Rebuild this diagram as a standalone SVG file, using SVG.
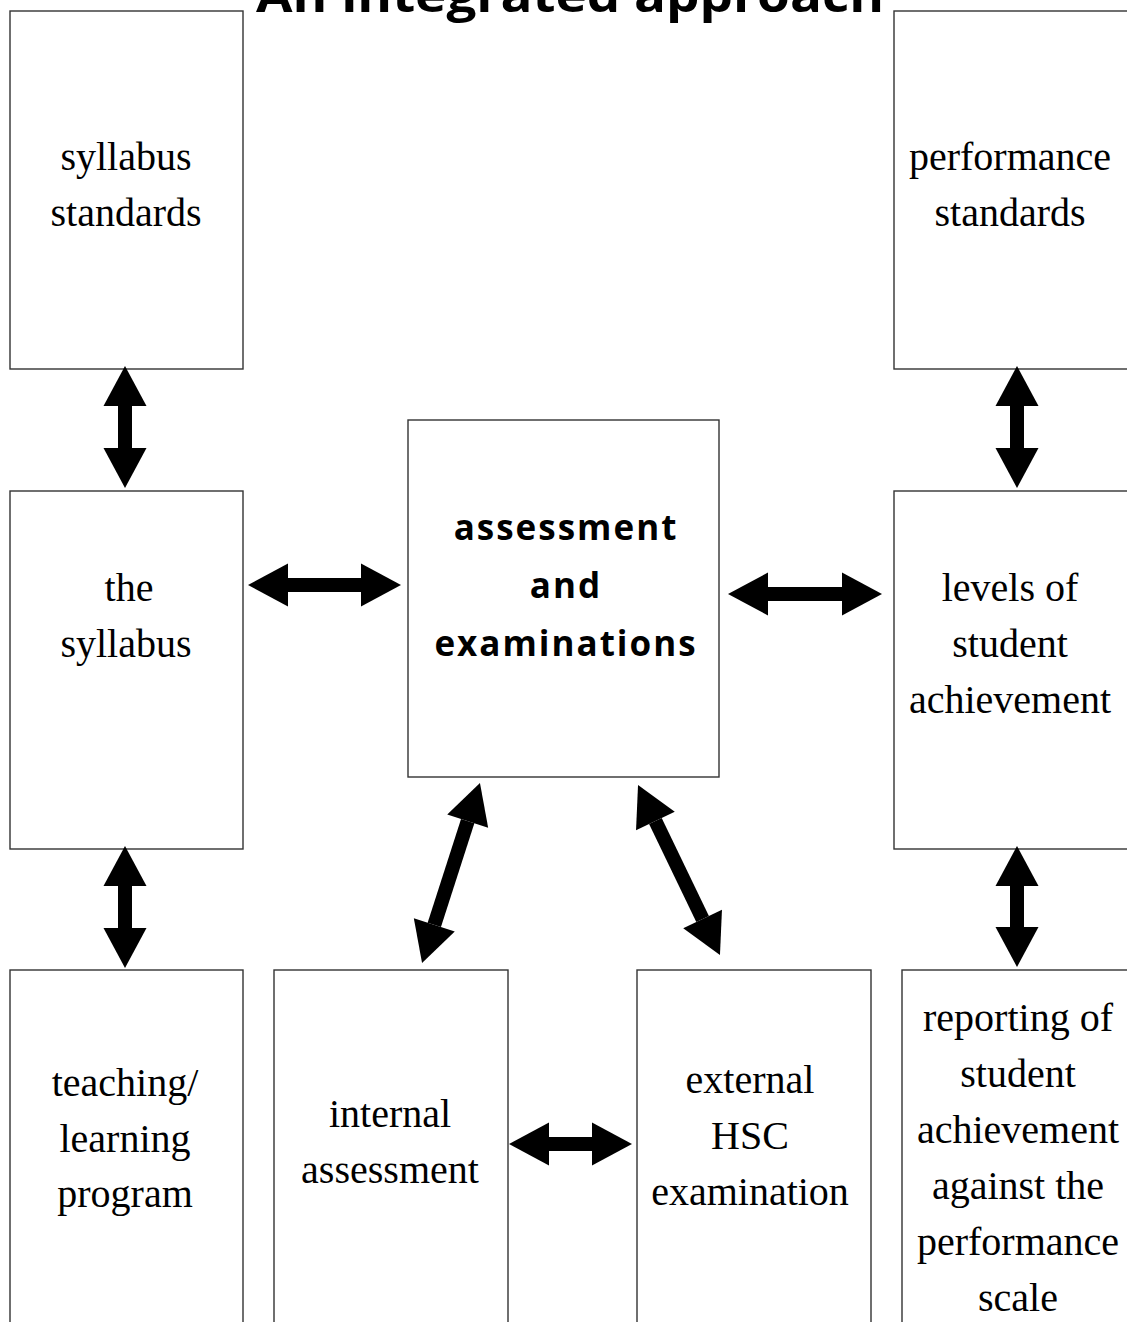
<svg xmlns="http://www.w3.org/2000/svg" width="1127" height="1322" viewBox="0 0 1127 1322">
<style>
.box{fill:#fff;stroke:#333;stroke-width:1.4}
.t{font-family:"Liberation Serif","Times New Roman",serif;font-size:40px;fill:#000;text-anchor:middle}
.b{font-family:"Open Sans","Liberation Sans",sans-serif;font-size:35px;font-weight:bold;letter-spacing:2px;fill:#000;text-anchor:middle}
.title{font-family:"Open Sans","Liberation Sans",sans-serif;font-size:46px;font-weight:bold;fill:#000;text-anchor:middle}
.c{stroke:#000;stroke-width:14;fill:none;marker-start:url(#head);marker-end:url(#head)}
</style>
<defs>
<marker id="head" markerUnits="userSpaceOnUse" markerWidth="42" markerHeight="44" viewBox="0 -22 40 44" refX="0" refY="0" orient="auto-start-reverse" overflow="visible">
<path d="M0,-21.5 L40,0 L0,21.5 Z" fill="#000"/>
</marker>
</defs>
<rect width="1127" height="1322" fill="#fff"/>
<text class="title" x="570" y="12" textLength="628" lengthAdjust="spacingAndGlyphs">An integrated approach</text>

<g id="syllabus-standards">
<rect class="box" x="10" y="11" width="233" height="358"/>
<text class="t" x="126" y="170">syllabus</text>
<text class="t" x="126" y="226">standards</text>
</g>
<g id="performance-standards">
<rect class="box" x="894" y="11" width="240" height="358"/>
<text class="t" x="1010" y="170">performance</text>
<text class="t" x="1010" y="226">standards</text>
</g>
<g id="the-syllabus">
<rect class="box" x="10" y="491" width="233" height="358"/>
<text class="t" x="129" y="601">the</text>
<text class="t" x="126" y="657">syllabus</text>
</g>
<g id="assessment">
<rect class="box" x="408" y="420" width="311" height="357"/>
<text class="b" x="566" y="540">assessment</text>
<text class="b" x="566" y="598">and</text>
<text class="b" x="566" y="656">examinations</text>
</g>
<g id="levels">
<rect class="box" x="894" y="491" width="240" height="358"/>
<text class="t" x="1010" y="601">levels of</text>
<text class="t" x="1010" y="657">student</text>
<text class="t" x="1010" y="713">achievement</text>
</g>
<g id="teaching">
<rect class="box" x="10" y="970" width="233" height="400"/>
<text class="t" x="125" y="1096">teaching/</text>
<text class="t" x="125" y="1152">learning</text>
<text class="t" x="125" y="1207">program</text>
</g>
<g id="internal">
<rect class="box" x="274" y="970" width="234" height="400"/>
<text class="t" x="390" y="1127">internal</text>
<text class="t" x="390" y="1183">assessment</text>
</g>
<g id="external">
<rect class="box" x="637" y="970" width="234" height="400"/>
<text class="t" x="750" y="1093">external</text>
<text class="t" x="750" y="1149">HSC</text>
<text class="t" x="750" y="1205">examination</text>
</g>
<g id="reporting">
<rect class="box" x="902" y="970" width="240" height="400"/>
<text class="t" x="1018" y="1031">reporting of</text>
<text class="t" x="1018" y="1087">student</text>
<text class="t" x="1018" y="1143">achievement</text>
<text class="t" x="1018" y="1199">against the</text>
<text class="t" x="1018" y="1255">performance</text>
<text class="t" x="1018" y="1311">scale</text>
</g>

<g id="connectors">
<line class="c" x1="125" y1="406" x2="125" y2="448"/>
<line class="c" x1="1017" y1="406" x2="1017" y2="448"/>
<line class="c" x1="125" y1="886" x2="125" y2="928"/>
<line class="c" x1="1017" y1="886" x2="1017" y2="927"/>
<line class="c" x1="288" y1="585" x2="361" y2="585"/>
<line class="c" x1="768" y1="594" x2="842" y2="594"/>
<line class="c" x1="549" y1="1144" x2="592" y2="1144"/>
<line class="c" x1="467.7" y1="821.1" x2="434.3" y2="924.9"/>
<line class="c" x1="655.4" y1="821" x2="702.6" y2="919"/>
</g>
</svg>
